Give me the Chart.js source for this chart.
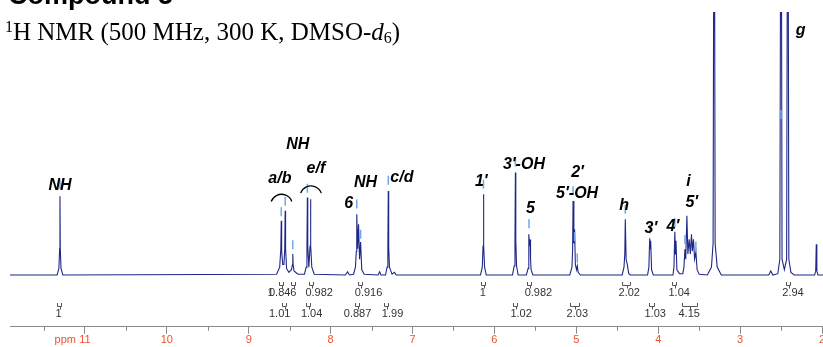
<!DOCTYPE html>
<html>
<head>
<meta charset="utf-8">
<script src="https://cdn.jsdelivr.net/npm/chart.js@4/dist/chart.umd.min.js"></script>
<style>
  body { margin: 0; background: #fff; }
  #wrap { position: relative; width: 823px; height: 347px; overflow: hidden; }
  #compound { position: absolute; left: 8px; top: -18px; font: bold 27px "Liberation Sans", Arial, sans-serif; line-height: 1; color: #000; }
  #nmr { position: absolute; left: 5px; top: 19px; font: 25px "Liberation Serif", "Times New Roman", serif; line-height: 1; color: #000; white-space: nowrap; }
  #nmr sup { font-size: 16px; vertical-align: 8px; line-height: 0; }
  #nmr sub { font-size: 16px; vertical-align: -3px; line-height: 0; }
  canvas { position: absolute; left: 0; top: 0; }
</style>
</head>
<body>
<div id="wrap">
  <canvas id="nmrChart" width="823" height="347"></canvas>
  <div id="compound">Compound 5</div>
  <div id="nmr"><sup>1</sup>H NMR (500 MHz, 300 K, DMSO-<i>d</i><sub>6</sub>)</div>
</div>
<script>
// spectrum trace: [ppm, intensity]
const trace = [
  [11.915, 0], [11.34, 0], [11.318, 2.5], [11.309, 10], [11.305, 29.9], [11.301, 10], [11.292, 2.5], [11.27, 0],
  [8.66, 0.3], [8.622, 3], [8.608, 10], [8.603, 20.6], [8.598, 9], [8.585, 4], [8.57, 4], [8.56, 10], [8.555, 24.4], [8.55, 10], [8.538, 2.5],
  [8.51, 1], [8.478, 2], [8.466, 4], [8.462, 8.0], [8.458, 4], [8.447, 1.5], [8.40, 0.3],
  [8.32, 0.3], [8.298, 3], [8.289, 11], [8.284, 29.5], [8.279, 11], [8.266, 3], [8.251, 11], [8.246, 28.8], [8.241, 11], [8.23, 3], [8.20, 0.3],
  [7.82, 0], [7.793, 1.2], [7.77, 0],
  [7.72, 0.3], [7.697, 3], [7.686, 9], [7.681, 23.1], [7.67, 10], [7.659, 19.3], [7.647, 6], [7.634, 12.5],
  [7.62, 2], [7.59, 0.3],
  [7.42, 0], [7.402, 1.2], [7.385, 0],
  [7.33, 0], [7.31, 3], [7.301, 11], [7.296, 31.9], [7.291, 11], [7.282, 3], [7.25, 0.3], [7.22, 1.0], [7.20, 0],
  [6.17, 0], [6.148, 3], [6.139, 11], [6.134, 30.7], [6.129, 11], [6.12, 3], [6.10, 0],
  [5.78, 0], [5.758, 3.5], [5.749, 13], [5.744, 39.0], [5.739, 13], [5.73, 3.5], [5.71, 0],
  [5.61, 0], [5.588, 2.5], [5.582, 7], [5.578, 15.5], [5.571, 11], [5.564, 13.5], [5.559, 6], [5.552, 2], [5.53, 0],
  [5.08, 0], [5.053, 3], [5.045, 10], [5.040, 28.1], [5.030, 12], [5.021, 17.4], [5.012, 4], [4.997, 2],
  [4.988, 3.5], [4.978, 1], [4.95, 0],
  [4.44, 0], [4.418, 3], [4.408, 8], [4.402, 21.2], [4.392, 6], [4.378, 4], [4.36, 0.5], [4.34, 0],
  [4.13, 0], [4.114, 3], [4.104, 14], [4.098, 10], [4.092, 13], [4.081, 2], [4.06, 0],
  [3.82, 0], [3.808, 3], [3.797, 16.4], [3.790, 8], [3.783, 13], [3.772, 2], [3.74, 0.5],
  [3.70, 0.5], [3.686, 3], [3.674, 9.8], [3.664, 6], [3.650, 22.5], [3.638, 8], [3.622, 13.6],
  [3.608, 8], [3.594, 15.5], [3.583, 9], [3.570, 13.6], [3.556, 6], [3.540, 8.7], [3.525, 2], [3.50, 0.3],
  [3.40, 0], [3.35, 3], [3.33, 12], [3.317, 200], [3.305, 12], [3.28, 3], [3.23, 0],
  [2.65, 0], [2.626, 1.5], [2.60, 0],
  [2.54, 0.5], [2.515, 6], [2.500, 200], [2.488, 6], [2.46, 2], [2.432, 6], [2.418, 200],
  [2.405, 6], [2.38, 1], [2.34, 0],
  [2.09, 0], [2.077, 1.5], [2.070, 11.7], [2.063, 1.5], [2.05, 0], [1.988, 0]
];

// peak-pick markers (light blue ticks above the peaks)
const pickPpm = [11.305, 8.603, 8.555, 8.462, 8.284, 7.681, 7.634, 7.296, 6.134, 5.744, 5.578, 5.040, 5.021, 4.988, 4.402, 4.104, 3.797, 3.674, 3.540, 2.500];
const pickY   = [34.5, 24, 28, 11.5, 33, 27, 15.5, 36, 34.5, 43, 19.5, 32, 14.5, 6.5, 25, 17.5, 20, 13.5, 11, 61];

// peak assignment labels
const labelText = ['NH', 'a/b', 'NH', 'e/f', 'NH', '6', 'c/d', '1\u2032', '3\u2032-OH', '5', '2\u2032', '5\u2032-OH', 'h', '3\u2032', '4\u2032', 'i', '5\u2032', 'g'];
const labelPpm  = [11.305, 8.62, 8.40, 8.18, 7.575, 7.78, 7.13, 6.16, 5.64, 5.56, 4.985, 4.99, 4.415, 4.09, 3.82, 3.63, 3.59, 2.26];
const labelY    = [34.1, 36.5, 49.5, 40.5, 35.2, 27, 37, 35.5, 42, 25.4, 39, 31, 26.5, 17.5, 18.5, 35.5, 27.5, 93];

// arcs over grouped peaks
const arcPpm = [8.60, 8.24];
const arcY   = [26.5, 29.7];

// integrals: bracket range, row, value, label position
const intFrom  = [8.626, 8.485, 8.26, 7.663, 6.168, 5.607, 4.443, 3.83, 2.44, 11.338, 8.598, 8.302, 7.699, 7.346, 5.769, 5.073, 4.107, 3.711];
const intTo    = [8.576, 8.435, 8.21, 7.613, 6.118, 5.557, 4.346, 3.78, 2.39, 11.288, 8.548, 8.252, 7.649, 7.296, 5.719, 4.963, 4.057, 3.529];
const intRow   = [1, 1, 1, 1, 1, 1, 1, 1, 1, 2, 2, 2, 2, 2, 2, 2, 2, 2];
const intValue = ['1', '0.846', '0.982', '0.916', '1', '0.982', '2.02', '1.04', '2.94', '1', '1.01', '1.04', '0.887', '1.99', '1.02', '2.03', '1.03', '4.15'];
const intTextPpm = [8.735, 8.585, 8.140, 7.537, 6.143, 5.463, 4.354, 3.744, 2.354, 11.323, 8.622, 8.232, 7.671, 7.244, 5.674, 4.988, 4.037, 3.622];

const annotations = {
  id: 'annotations',
  afterDatasetsDraw(chart) {
    const ctx = chart.ctx;
    const xs = chart.scales.x, ys = chart.scales.y;
    ctx.save();
    // minor ticks at half ppm
    ctx.strokeStyle = '#8a8a8a';
    ctx.lineWidth = 1;
    const yb = chart.chartArea.bottom;
    for (let v = 2.5; v < 12; v += 1) {
      const px = Math.round(xs.getPixelForValue(v)) + 0.5;
      ctx.beginPath(); ctx.moveTo(px, yb); ctx.lineTo(px, yb + 4); ctx.stroke();
    }
    // "ppm" unit next to 11
    ctx.fillStyle = '#f0522a';
    ctx.font = '11px "Liberation Sans", Arial, sans-serif';
    ctx.textAlign = 'right';
    ctx.textBaseline = 'middle';
    ctx.fillText('ppm', xs.getPixelForValue(11) - 9, yb + 13.5);

    // labels
    ctx.fillStyle = '#000';
    ctx.font = 'bold italic 16px "Liberation Sans", Arial, sans-serif';
    ctx.textAlign = 'center';
    labelText.forEach((t, i) => {
      ctx.fillText(t, xs.getPixelForValue(labelPpm[i]), ys.getPixelForValue(labelY[i]));
    });

    // arcs
    ctx.strokeStyle = '#000';
    ctx.lineWidth = 1.3;
    arcPpm.forEach((p, i) => {
      ctx.beginPath();
      ctx.arc(xs.getPixelForValue(p), ys.getPixelForValue(arcY[i]), 11, Math.PI + 0.35, 2 * Math.PI - 0.35);
      ctx.stroke();
    });

    // integrals
    ctx.strokeStyle = '#555';
    ctx.lineWidth = 1;
    ctx.fillStyle = '#333';
    ctx.font = '11px "Liberation Sans", Arial, sans-serif';
    intFrom.forEach((f, i) => {
      const top = intRow[i] === 1 ? 282 : 303;
      const x1 = Math.round(xs.getPixelForValue(f)) + 0.5;
      const x2 = Math.round(xs.getPixelForValue(intTo[i])) + 0.5;
      const xm = Math.round((x1 + x2) / 2) + 0.5;
      ctx.beginPath();
      ctx.moveTo(x1, top); ctx.lineTo(x1, top + 3.5); ctx.lineTo(x2, top + 3.5); ctx.lineTo(x2, top);
      ctx.moveTo(xm, top + 3.5); ctx.lineTo(xm, top + 6.5);
      ctx.stroke();
      ctx.fillText(intValue[i], xs.getPixelForValue(intTextPpm[i]), top + 11);
    });
    ctx.restore();
  }
};

new Chart(document.getElementById('nmrChart'), {
  type: 'line',
  data: {
    datasets: [{
      label: 'spectrum',
      data: trace.map(p => ({x: p[0], y: p[1]})),
      borderColor: '#1f2787',
      borderWidth: 1.1,
      pointRadius: 0,
      tension: 0,
      order: 2
    }, {
      type: 'scatter',
      label: 'picks',
      data: pickPpm.map((p, i) => ({x: p, y: pickY[i]})),
      pointStyle: 'line',
      rotation: 90,
      radius: 4.5,
      borderColor: '#6fa8ea',
      borderWidth: 1.5,
      order: 1
    }]
  },
  options: {
    responsive: false,
    animation: false,
    layout: { autoPadding: false, padding: { left: 10, right: 0, top: 12, bottom: 0 } },
    plugins: { legend: { display: false }, tooltip: { enabled: false } },
    scales: {
      x: {
        type: 'linear',
        reverse: true,
        min: 1.988,
        max: 11.915,
        afterFit(scale) { scale.paddingLeft = 0; scale.paddingRight = 0; },
        border: { display: true, color: '#8a8a8a', width: 1 },
        grid: { display: true, drawOnChartArea: false, drawTicks: true, tickLength: 7, tickColor: '#8a8a8a' },
        ticks: {
          stepSize: 1,
          includeBounds: false,
          autoSkip: false,
          maxRotation: 0,
          padding: 0,
          color: '#f0522a',
          font: { size: 11, family: '"Liberation Sans", Arial, sans-serif' },
          callback: v => String(v)
        }
      },
      y: { display: false, min: -19.7, max: 100 }
    }
  },
  plugins: [annotations]
});
</script>
</body>
</html>
